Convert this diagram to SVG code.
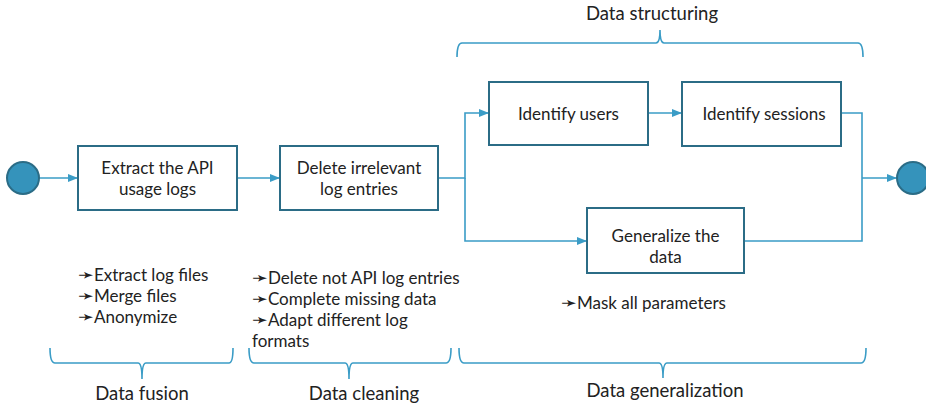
<svg xmlns="http://www.w3.org/2000/svg" width="926" height="409" viewBox="0 0 926 409">
  <style>
    text { font-family: Lato, "Open Sans", "DejaVu Sans", sans-serif; font-size: 17px; fill: #222; }
    .node rect { fill: #fff; stroke: #2b6c86; stroke-width: 2; }
    .ev { fill: #3593bb; stroke: #2b6c86; stroke-width: 2; }
    .conn { fill: none; stroke: #3a9cc6; stroke-width: 1.6; }
    .brace { fill: none; stroke: #3a9cc6; stroke-width: 1.6; }
    .c { text-anchor: middle; }
    .phase { font-size: 18.5px; }
    .b { font-family: "DejaVu Sans", sans-serif; font-size: 19px; }
  </style>
  <defs>
    <marker id="arrow" viewBox="0 0 10 8" refX="10" refY="4" markerWidth="10" markerHeight="8" markerUnits="userSpaceOnUse" orient="auto">
      <path d="M0,0 L10,4 L0,8 Z" fill="#3a9cc6"/>
    </marker>
  </defs>

  <!-- connectors -->
  <g id="connectors">
    <path class="conn" d="M39,178 H78" marker-end="url(#arrow)"/>
    <path class="conn" d="M237,178 H280" marker-end="url(#arrow)"/>
    <path class="conn" d="M438,178 H465 V113 H489" marker-end="url(#arrow)"/>
    <path class="conn" d="M465,178 V241 H587" marker-end="url(#arrow)"/>
    <path class="conn" d="M648,113 H682" marker-end="url(#arrow)"/>
    <path class="conn" d="M841,113 H862 V241 H744"/>
    <path class="conn" d="M862,178 H897" marker-end="url(#arrow)"/>
  </g>

  <!-- events -->
  <g id="start"><circle class="ev" cx="23" cy="178" r="16"/></g>
  <g id="end"><circle class="ev" cx="913" cy="178" r="16"/></g>

  <!-- tasks -->
  <g id="extract" class="node">
    <rect x="78" y="146" width="159" height="64"/>
    <text class="c" x="157.5" y="174">Extract the API</text>
    <text class="c" x="157.5" y="195">usage logs</text>
  </g>
  <g id="delete" class="node">
    <rect x="280" y="146" width="158" height="64"/>
    <text class="c" x="359" y="174">Delete irrelevant</text>
    <text class="c" x="359" y="195">log entries</text>
  </g>
  <g id="users" class="node">
    <rect x="489" y="82" width="159" height="63"/>
    <text class="c" x="568.5" y="120">Identify users</text>
  </g>
  <g id="sessions" class="node">
    <rect x="682" y="82" width="159" height="64"/>
    <text class="c" x="764" y="120">Identify sessions</text>
  </g>
  <g id="generalize" class="node">
    <rect x="587" y="208" width="157" height="65"/>
    <text class="c" x="665.5" y="242">Generalize the</text>
    <text class="c" x="665.5" y="263">data</text>
  </g>

  <!-- phase braces -->
  <g id="brace-structuring">
    <path class="brace" d="M457,57 Q457,43 462,43 H656 Q660,43 660,30 Q660,43 664,43 H858 Q863,43 863,57"/>
    <text class="c phase" x="652" y="20">Data structuring</text>
  </g>
  <g id="brace-fusion">
    <path class="brace" d="M50,348 Q50,363 55,363 H138 Q142,363 142,379 Q142,363 146,363 H229 Q233,363 233,348"/>
    <text class="c phase" x="142" y="400">Data fusion</text>
  </g>
  <g id="brace-cleaning">
    <path class="brace" d="M249,348 Q249,363 254,363 H345 Q349,363 349,379 Q349,363 353,363 H446 Q451,363 451,348"/>
    <text class="c phase" x="364" y="400">Data cleaning</text>
  </g>
  <g id="brace-generalization">
    <path class="brace" d="M459,348 Q459,363 464,363 H659 Q663,363 663,378 Q663,363 667,363 H861 Q866,363 866,348"/>
    <text class="c phase" x="665" y="397">Data generalization</text>
  </g>

  <!-- activity notes -->
  <g id="notes-fusion">
    <text x="78" y="281"><tspan class="b">➛</tspan>Extract log files</text>
    <text x="78" y="302"><tspan class="b">➛</tspan>Merge files</text>
    <text x="78" y="323"><tspan class="b">➛</tspan>Anonymize</text>
  </g>
  <g id="notes-cleaning">
    <text x="252" y="284"><tspan class="b">➛</tspan>Delete not API log entries</text>
    <text x="252" y="305"><tspan class="b">➛</tspan>Complete missing data</text>
    <text x="252" y="326"><tspan class="b">➛</tspan>Adapt different log</text>
    <text x="252" y="347">formats</text>
  </g>
  <g id="notes-generalization">
    <text x="561" y="309"><tspan class="b">➛</tspan>Mask all parameters</text>
  </g>
</svg>
